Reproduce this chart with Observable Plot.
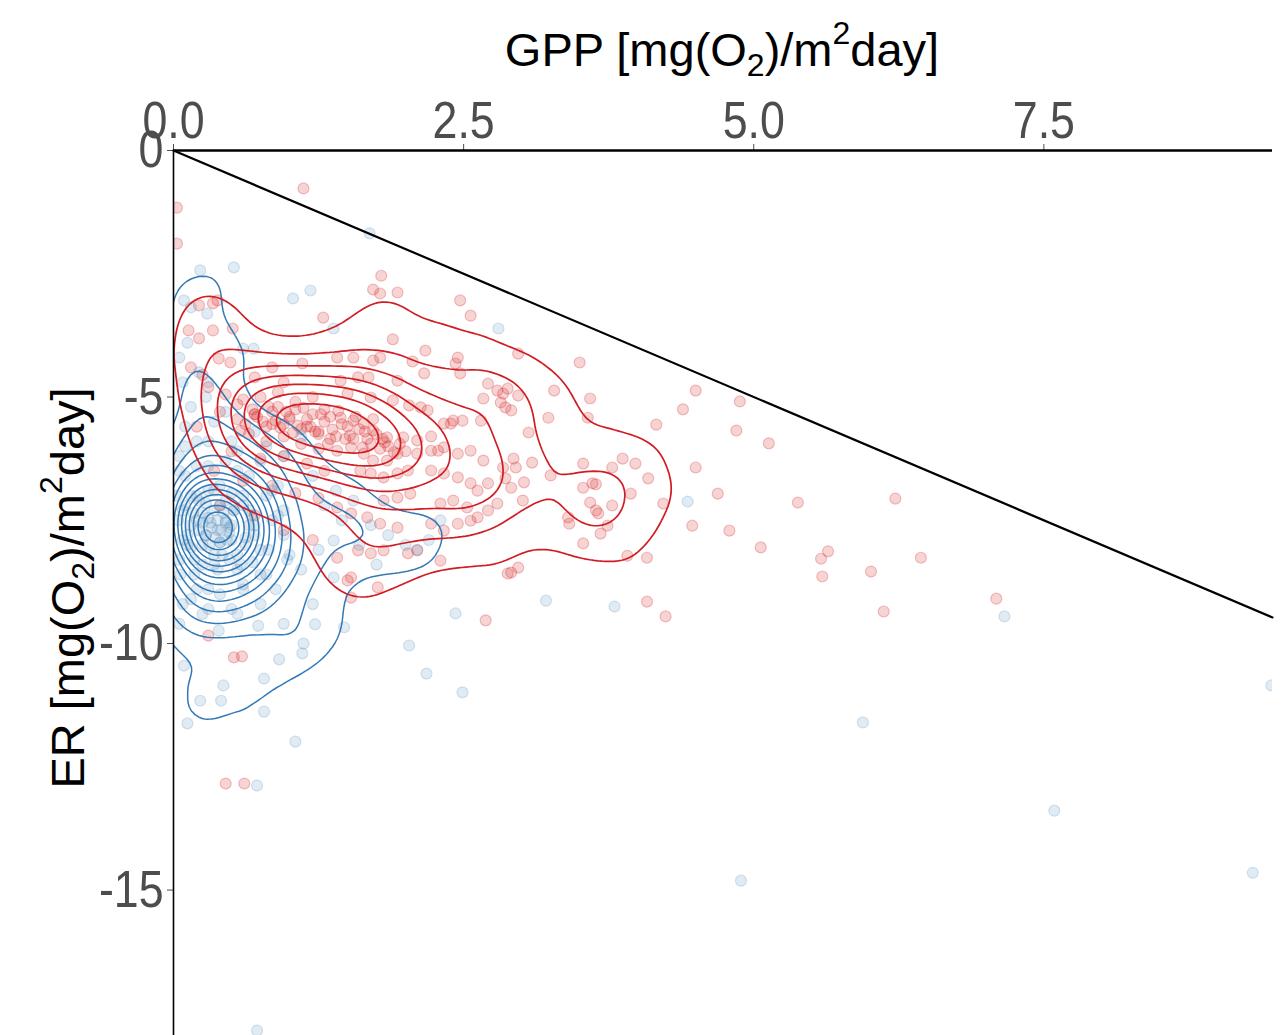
<!DOCTYPE html>
<html>
<head>
<meta charset="utf-8">
<script src="https://cdn.jsdelivr.net/npm/d3@7"></script>
<script src="https://cdn.jsdelivr.net/npm/@observablehq/plot@0.6"></script>
<style>
  html, body { margin: 0; padding: 0; background: #fff; }
  #chart svg { display: block; }
</style>
</head>
<body>
<div id="chart"></div>
<script>
// ---- data ----
const xTicks = [0, 2.5, 5, 7.5];
const yTicks = [0, -5, -10, -15];
const xDomain = [0, 9.47];
const yDomain = [-17.95, 0];
const oneToOneGPP = [0, 9.47];

const redGPP = [1.12,0.03,0.03,1.79,1.72,1.78,1.93,2.47,2.56,0.22,0.34,0.38,1.29,0.13,0.22,0.34,0.51,0.39,0.49,0.85,1.11,1.41,1.89,1.55,1.72,1.78,2.06,2.17,2.16,2.45,2.43,2.47,2.71,2.79,2.84,2.82,2.86,2.67,2.65,2.41,2.49,1.44,1.59,1.68,1.93,1.50,1.70,1.89,2.03,2.13,2.19,2.33,2.39,1.44,1.55,1.64,1.72,1.84,1.98,2.10,2.22,2.28,
3.50,2.97,3.59,3.57,3.23,3.28,2.88,2.97,2.91,3.06,2.93,2.84,2.95,3.09,3.02,2.91,2.86,3.25,3.01,3.53,3.53,3.61,3.64,3.78,3.87,3.98,4.09,3.94,3.78,3.59,3.64,3.66,3.40,3.41,3.68,3.74,3.53,2.91,2.97,
4.50,4.39,4.16,4.88,4.85,5.13,4.50,4.69,4.47,4.79,5.06,5.38,6.22,3.91,4.08,5.58,5.64,5.59,6.01,6.44,7.09,6.12,4.08,4.24,4.22,
1.41,1.53,1.64,1.72,1.84,1.93,1.61,1.70,1.81,1.93,2.02,2.10,2.22,2.33,2.45,2.56,2.67,2.22,2.33,2.45,2.56,2.62,2.71,1.81,1.93,2.04,1.41,1.53,1.67,2.30,2.41,2.53,2.62,2.71,2.79,2.22,2.33,2.45,2.56,1.78,1.93,1.59,1.70,1.81,2.02,2.10,2.30,1.41,1.50,1.53,1.53,1.76,2.69,2.88,
0.30,0.52,0.59,0.45,0.61,
0.30,0.45,0.60,0.75,0.90,1.05,1.20,1.30,0.40,0.55,0.70,0.85,1.00,1.15,1.25,0.65,0.80,0.95,1.10,1.25,1.35,0.50,0.75,0.95,1.15,1.30,0.35,0.60,0.85,1.05,1.25,0.20,0.15,0.25,0.70,0.95,0.40,0.70,0.95,1.20,
0.55,0.68,0.82,0.97,1.12,1.27,1.42,1.57,1.72,0.62,0.77,0.92,1.07,1.22,1.37,1.52,1.67,1.82,0.72,0.88,1.03,1.18,1.33,1.48,1.63,0.58,1.78,1.90,
0.70,0.85,1.00,1.15,1.30,1.45,1.60,1.75,0.80,0.95,1.10,1.25,1.40,1.55,1.70,1.85,2.00,0.90,1.05,1.20,1.35,1.50,1.65,1.80,1.95];
const redER = [-0.77,-1.16,-1.89,-2.54,-2.82,-2.90,-2.88,-3.04,-3.35,-3.14,-3.10,-3.04,-3.39,-3.65,-3.81,-3.65,-3.61,-4.22,-4.30,-4.40,-4.32,-4.20,-3.83,-4.20,-4.26,-4.20,-4.28,-4.06,-4.52,-4.20,-4.32,-4.52,-4.73,-4.87,-4.93,-5.11,-5.21,-5.03,-5.48,-5.48,-5.48,-4.67,-4.60,-4.60,-4.67,-4.93,-5.01,-5.07,-5.17,-5.21,-5.27,-5.54,-5.54,-5.42,-5.48,-5.54,-5.68,-5.82,-5.82,-5.88,-5.80,-6.09,
-4.30,-4.12,-5.03,-5.42,-5.42,-4.87,-4.83,-4.97,-5.27,-5.72,-6.25,-6.43,-6.43,-6.33,-6.73,-6.84,-6.65,-6.59,-7.10,-6.35,-6.84,-6.75,-6.77,-6.43,-6.25,-6.35,-6.65,-6.96,-7.20,-7.14,-7.30,-7.36,-7.44,-7.57,-7.77,-7.61,-7.97,-8.56,-8.46,
-4.87,-5.25,-5.56,-5.09,-5.68,-5.94,-6.43,-6.96,-7.61,-7.71,-8.05,-7.14,-7.06,-8.22,-8.26,-8.28,-8.13,-8.64,-8.54,-8.26,-9.09,-9.35,-9.15,-9.45,-7.16,
-6.09,-6.02,-6.15,-6.29,-6.29,-6.15,-6.49,-6.55,-6.63,-6.55,-6.49,-6.15,-6.09,-6.02,-6.15,-6.09,-6.29,-6.49,-6.55,-6.63,-6.75,-6.90,-6.75,-7.10,-7.04,-6.96,-7.24,-7.36,-7.44,-7.16,-7.10,-7.24,-7.44,-7.30,-7.16,-7.57,-7.71,-7.57,-7.51,-7.57,-7.65,-8.11,-8.17,-8.11,-8.17,-8.11,-8.32,-8.26,-8.72,-8.66,-9.07,-8.86,-9.53,-8.58,
-9.84,-10.28,-10.26,-12.84,-12.84,
-4.80,-4.95,-5.05,-5.00,-4.90,-5.10,-5.00,-5.25,-5.30,-5.45,-5.35,-5.55,-5.45,-5.60,-5.75,-5.75,-5.90,-5.80,-5.95,-6.05,-5.85,-6.10,-6.25,-6.20,-6.35,-6.50,-6.50,-6.70,-6.80,-6.95,-7.05,-5.60,-4.40,-4.55,-4.60,-4.70,-7.20,-7.40,-7.70,-7.90,
-5.15,-5.25,-5.20,-5.30,-5.22,-5.35,-5.28,-5.40,-5.45,-5.55,-5.50,-5.62,-5.58,-5.70,-5.66,-5.78,-5.85,-5.92,-5.40,-5.48,-5.72,-5.60,-5.95,-5.85,-6.02,-5.68,-6.05,-6.12,
-5.35,-5.30,-5.40,-5.45,-5.50,-5.55,-5.65,-5.75,-5.60,-5.55,-5.65,-5.70,-5.80,-5.85,-5.95,-6.00,-6.10,-5.20,-5.25,-5.35,-5.40,-5.60,-5.70,-5.85,-5.95];

const blueGPP = [0.23,0.52,0.09,0.15,0.29,1.03,1.18,1.38,2.80,1.69,0.60,0.69,
4.43,7.16,3.80,3.21,5.94,7.59,4.89,9.30,9.46,0.72,
0.09,0.39,0.73,1.22,1.12,0.91,1.11,0.43,0.23,0.41,0.78,0.78,0.12,1.05,0.72,2.03,2.18,2.49,1.47,1.38,1.38,2.43,
0.05,0.10,0.15,0.08,0.20,0.12,0.25,0.05,0.18,0.30,
0.30,0.35,0.40,0.45,0.38,0.50,0.42,0.55,0.35,0.60,
0.55,0.60,0.65,0.70,0.62,0.75,0.68,0.80,
0.85,0.90,0.95,1.00,0.88,1.10,
0.25,0.32,0.28,0.48,0.22,0.15,0.40,0.52,
0.10,0.20,0.35,0.50,0.15,0.28,0.45,0.70,0.08,0.22,0.05,0.12,0.30,
1.20,1.30,1.45,1.25,0.95,1.10,0.80,1.40,
0.30,0.55,0.75,0.15,0.95,1.20,0.05,
1.60,1.75,1.55,2.00,2.30,1.85,2.10,1.70,2.20,
0.30,0.38,0.45,0.33,0.41,0.48,0.28,0.36,0.43,0.25,0.50,0.35,0.40,0.31,0.46,0.22,
0.10,0.15,0.12,0.18,0.60,0.65,0.62,0.58,0.30,0.40,0.50,0.25,0.38,0.48,0.20,0.55,0.08,0.70,0.45,0.28,0.35,0.52,0.17,0.67,
0.05,0.20,0.45,0.65,0.80,0.85,0.82,0.75,0.60,0.40,0.20,0.06,0.03,0.04,0.10,0.30,0.55,0.75,0.95,0.98,0.50,0.25,0.08,0.90];
const blueER = [-2.43,-2.37,-3.04,-3.18,-3.31,-3.00,-2.84,-3.61,-3.61,-1.68,-4.02,-4.02,
-7.12,-9.45,-9.25,-9.13,-11.60,-13.39,-14.81,-14.65,-10.85,-17.85,
-10.45,-9.74,-9.64,-9.61,-10.00,-10.32,-10.20,-10.85,-11.16,-11.16,-10.71,-11.38,-11.62,-11.99,-12.88,-10.04,-10.61,-10.99,-9.67,-7.91,-8.66,-9.39,
-6.2,-6.6,-7.0,-7.3,-7.5,-7.8,-8.0,-8.3,-8.6,-8.9,
-6.4,-6.9,-7.2,-7.5,-7.7,-7.9,-8.2,-8.5,-8.4,-8.8,
-6.5,-7.0,-7.3,-7.6,-7.85,-8.1,-8.35,-8.6,
-6.9,-7.4,-7.8,-8.2,-8.9,-8.5,
-7.35,-7.55,-7.80,-7.65,-7.10,-8.05,-7.95,-7.3,
-5.6,-5.9,-5.5,-5.9,-5.2,-5.0,-5.3,-5.7,-4.7,-4.5,-4.2,-3.9,-4.7,
-6.6,-7.2,-7.5,-8.1,-6.2,-5.8,-6.0,-6.9,
-9.3,-9.4,-9.2,-9.1,-9.6,-9.2,-9.6,
-8.0,-8.4,-7.1,-8.0,-7.5,-7.8,-8.1,-7.6,-7.9,
-7.45,-7.50,-7.55,-7.65,-7.70,-7.75,-7.80,-7.85,-7.35,-7.55,-7.60,-7.30,-7.95,-8.00,-7.90,-7.70,
-7.2,-7.6,-8.0,-8.3,-7.2,-7.6,-8.0,-8.4,-6.9,-6.8,-6.95,-8.4,-8.5,-8.3,-7.0,-8.2,-7.9,-7.8,-7.1,-7.15,-8.2,-7.3,-7.35,-7.4,
-6.5,-6.4,-6.3,-6.6,-7.0,-7.5,-8.1,-8.6,-8.9,-9.0,-8.9,-8.6,-7.0,-7.5,-6.0,-5.9,-6.1,-6.3,-7.3,-8.3,-9.3,-9.4,-9.2,-6.8];

const red = redGPP.map((g, i) => ({gpp: g, er: redER[i]}));
const blue = blueGPP.map((g, i) => ({gpp: g, er: blueER[i]}));

const RED = "#d7191c";
const BLUE = "#2c7bb6";

const chart = Plot.plot({
  width: 1281,
  height: 1035,
  marginLeft: 173,
  marginRight: 9,
  marginTop: 150,
  marginBottom: 0,
  style: {fontFamily: "'Liberation Sans', Arial, sans-serif", fontSize: "46px", color: "#4d4d4d", background: "#fff"},
  x: {domain: xDomain, axis: "top", ticks: xTicks, tickFormat: d3.format(".1f"), tickSize: 7, tickPadding: 6, label: null},
  y: {domain: yDomain, ticks: yTicks, tickFormat: d => String(d), tickSize: 6, tickPadding: 4, label: null},
  marks: [
    Plot.dot(red, {x: "gpp", y: "er", r: 5.5, fill: RED, fillOpacity: 0.19, stroke: RED, strokeOpacity: 0.26, strokeWidth: 1.2, clip: true}),
    Plot.dot(blue, {x: "gpp", y: "er", r: 5.5, fill: BLUE, fillOpacity: 0.15, stroke: "#5b8db8", strokeOpacity: 0.24, strokeWidth: 1.2, clip: true}),
    Plot.density(blue, {x: "gpp", y: "er", stroke: "#3279b5", strokeWidth: 1.5, bandwidth: 23, thresholds: 15, clip: true}),
    Plot.density(red, {x: "gpp", y: "er", stroke: "#d01c22", strokeWidth: 1.7, bandwidth: 30, thresholds: 8, clip: true}),
    Plot.line(oneToOneGPP, {x: d => d, y: d => -d, stroke: "#000", strokeWidth: 2.2}),
    Plot.ruleY([0], {stroke: "#000", strokeWidth: 2.5}),
    Plot.ruleX([0], {stroke: "#000", strokeWidth: 1.6})
  ]
});

document.getElementById("chart").appendChild(chart);

const svg = d3.select(chart);

// condensed, taller tick labels like the reference
svg.selectAll('g[aria-label="x-axis tick label"] text, g[aria-label="y-axis tick label"] text').each(function() {
  this.setAttribute("font-size", 52);
  this.style.fontSize = "52px";
  const len = this.getComputedTextLength();
  this.setAttribute("textLength", (len * 0.86).toFixed(1));
  this.setAttribute("lengthAdjust", "spacingAndGlyphs");
});

// axis titles with sub/superscripts
const titleFont = "'Liberation Sans', Arial, sans-serif";
function addTitle(sel, parts) {
  parts.forEach(p => {
    const t = sel.append("tspan").text(p.t);
    if (p.sub) t.attr("font-size", 32).attr("dy", 10);
    else if (p.sup) t.attr("font-size", 32).attr("dy", -22);
    if (p.back) t.attr("dy", p.back);
  });
}
const xt = svg.append("text")
  .attr("x", 722).attr("y", 66)
  .attr("text-anchor", "middle")
  .attr("font-family", titleFont).attr("font-size", 47).attr("fill", "#000");
addTitle(xt, [{t: "GPP [mg(O"}, {t: "2", sub: true}, {t: ")/m", back: -10}, {t: "2", sup: true}, {t: "day]", back: 22}]);

const yt = svg.append("text")
  .attr("transform", "translate(84,588) rotate(-90)")
  .attr("text-anchor", "middle")
  .attr("font-family", titleFont).attr("font-size", 47).attr("fill", "#000");
addTitle(yt, [{t: "ER [mg(O"}, {t: "2", sub: true}, {t: ")/m", back: -10}, {t: "2", sup: true}, {t: "day]", back: 22}]);
</script>
</body>
</html>
